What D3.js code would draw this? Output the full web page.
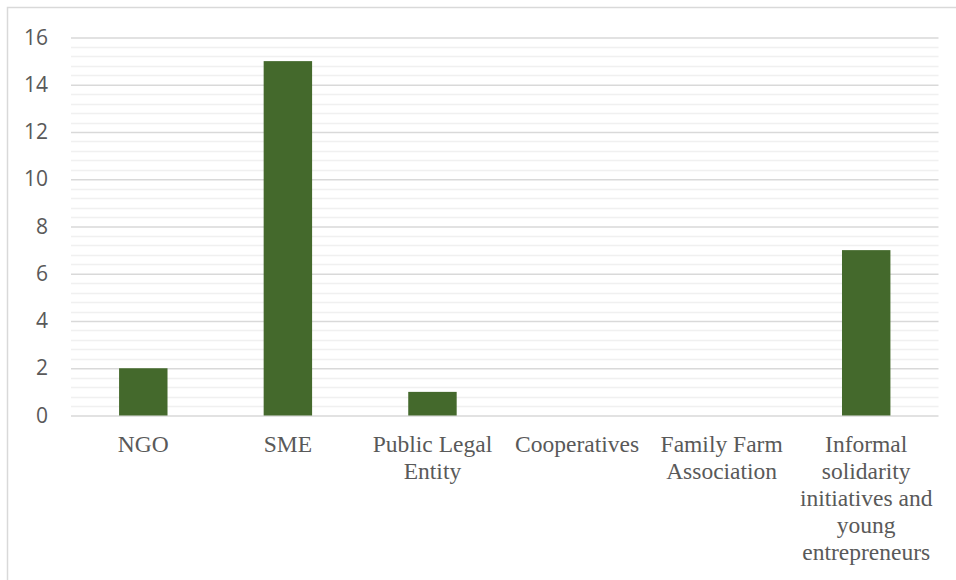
<!DOCTYPE html>
<html>
<head>
<meta charset="utf-8">
<script src="https://cdn.jsdelivr.net/npm/d3@7"></script>
<style>
  html, body { margin: 0; padding: 0; background: #fff; overflow: hidden; }
  svg { display: block; }
  .cat-label { font-family: "Liberation Serif", "Times New Roman", "DejaVu Serif", serif; font-size: 23.5px; fill: #595959; }
  .val-label { font-family: "Open Sans", "Noto Sans", sans-serif; font-size: 21px; fill: #595959; }
</style>
</head>
<body>
<svg id="chart" width="956" height="580"></svg>
<script>
// Number of applicants by organisation type
const categories = [
  "NGO",
  "SME",
  "Public Legal Entity",
  "Cooperatives",
  "Family Farm Association",
  "Informal solidarity initiatives and young entrepreneurs"
];
const counts = [2, 15, 1, 0, 0, 7];
const yTicks = [0, 2, 4, 6, 8, 10, 12, 14, 16];

const W = 956, H = 580;
const plot = { left: 71, right: 938.5, top: 37.5, bottom: 415.5 };

const svg = d3.select("#chart");

// Chart frame (only top and left edges fall inside the view)
svg.append("rect")
  .attr("x", 7.5).attr("y", 7.5)
  .attr("width", W + 20).attr("height", H + 20)
  .attr("fill", "#fff")
  .attr("stroke", "#d9d9d9")
  .attr("stroke-width", 1.5);

const y = d3.scaleLinear().domain([0, 16]).range([plot.bottom, plot.top]);

const x = d3.scaleBand()
  .domain(categories)
  .range([plot.left, plot.right])
  .paddingInner(0.665)
  .paddingOuter(0.3325);

// Minor gridlines every 0.4
const minor = d3.range(0, 16.001, 0.4).filter(v => Math.abs(v / 2 - Math.round(v / 2)) > 1e-6);
svg.append("g")
  .selectAll("line")
  .data(minor)
  .join("line")
  .attr("x1", plot.left).attr("x2", plot.right)
  .attr("y1", d => Math.round(y(d)) + 0.5)
  .attr("y2", d => Math.round(y(d)) + 0.5)
  .attr("stroke", "#f0f0f0")
  .attr("stroke-width", 1.5);

// Major gridlines and y labels via a left axis
const yAxis = d3.axisLeft(y)
  .tickValues(yTicks)
  .tickSize(-(plot.right - plot.left))
  .tickPadding(23)
  .tickFormat(d3.format("d"));

const gy = svg.append("g")
  .attr("transform", `translate(${plot.left},0)`)
  .call(yAxis)
  .attr("font-family", null)
  .attr("font-size", null);
gy.select(".domain").remove();
gy.selectAll(".tick line")
  .attr("stroke", "#d9d9d9")
  .attr("stroke-width", 1.5);
gy.selectAll(".tick text")
  .attr("class", "val-label")
  .attr("fill", null);

// Bars
svg.append("g")
  .selectAll("rect")
  .data(categories.map((c, i) => ({ c, v: counts[i] })))
  .join("rect")
  .attr("x", d => x(d.c))
  .attr("width", x.bandwidth())
  .attr("y", d => y(d.v))
  .attr("height", d => y(0) - y(d.v))
  .attr("fill", "#44692c");

// Category axis, labels wrapped to the band step
const xAxis = d3.axisBottom(x).tickSize(0).tickPadding(0);
const gx = svg.append("g")
  .attr("transform", `translate(0,${plot.bottom})`)
  .call(xAxis)
  .attr("font-family", null)
  .attr("font-size", null);
gx.select(".domain").remove();

const lineH = 27;
const maxW = x.step() - 4;
gx.selectAll(".tick text").each(function (label) {
  const t = d3.select(this)
    .text(null)
    .attr("class", "cat-label")
    .attr("fill", null)
    .attr("y", 0)
    .attr("dy", null)
    .attr("text-anchor", "middle");
  const words = label.split(/\s+/);
  let line = [];
  let lineNo = 0;
  let tspan = t.append("tspan").attr("x", 0).attr("y", 36);
  words.forEach(w => {
    line.push(w);
    tspan.text(line.join(" "));
    if (tspan.node().getComputedTextLength() > maxW && line.length > 1) {
      line.pop();
      tspan.text(line.join(" "));
      line = [w];
      lineNo += 1;
      tspan = t.append("tspan").attr("x", 0).attr("y", 36 + lineNo * lineH).text(w);
    }
  });
});
</script>
</body>
</html>
